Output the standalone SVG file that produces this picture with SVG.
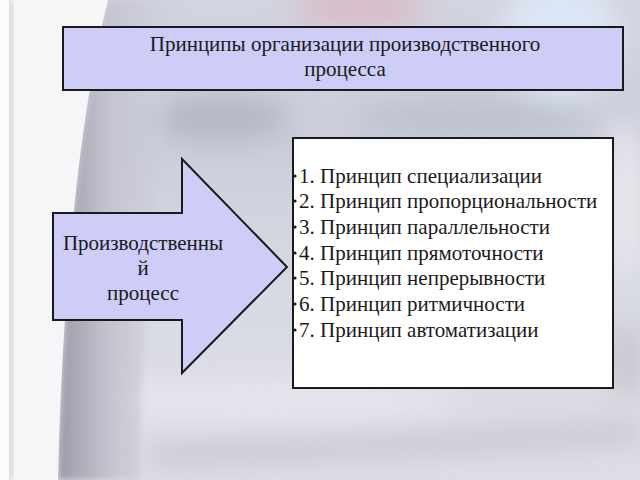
<svg xmlns="http://www.w3.org/2000/svg" width="640" height="480" viewBox="0 0 640 480">
  <defs>
    <linearGradient id="bgBase" x1="0" y1="0" x2="0" y2="1">
      <stop offset="0" stop-color="#d2d4e0"/>
      <stop offset="0.3" stop-color="#cbcdda"/>
      <stop offset="0.6" stop-color="#d8dae3"/>
      <stop offset="1" stop-color="#dddde5"/>
    </linearGradient>
    <linearGradient id="sweep" x1="0" y1="0" x2="1" y2="0">
      <stop offset="0" stop-color="#9a9aa8"/>
      <stop offset="0.35" stop-color="#c4c4d0"/>
      <stop offset="1" stop-color="#d0d2de" stop-opacity="0"/>
    </linearGradient>
    <filter id="blur" x="-50%" y="-50%" width="200%" height="200%">
      <feGaussianBlur stdDeviation="14"/>
    </filter>
    <filter id="blurS" x="-50%" y="-50%" width="200%" height="200%">
      <feGaussianBlur stdDeviation="3"/>
    </filter>
    <style>
      .box { stroke: #1a1a1a; stroke-width: 2; }
      .lav { fill: #cdcdf8; }
      .t { font-family: "Liberation Serif", "Times New Roman", serif; font-size: 21px; fill: #1a1a1a; }
      .c { text-anchor: middle; }
    </style>
  </defs>

  <!-- background -->
  <rect x="0" y="0" width="640" height="480" fill="url(#bgBase)"/>
  <g filter="url(#blur)">
    <ellipse cx="360" cy="8" rx="70" ry="20" fill="#d8bcc8"/>
    <ellipse cx="560" cy="40" rx="60" ry="60" fill="#dde6f4"/>
    <ellipse cx="470" cy="118" rx="120" ry="18" fill="#bcc0ce"/>
    <ellipse cx="220" cy="118" rx="70" ry="22" fill="#b4b6c4"/>
    <ellipse cx="260" cy="400" rx="200" ry="20" fill="#e6e6ee"/>
    <path d="M150 455 Q 380 448 640 432" stroke="#b8b8c4" stroke-width="12" fill="none"/>
    <ellipse cx="625" cy="200" rx="20" ry="80" fill="#e8e8ee"/>
    <ellipse cx="625" cy="360" rx="20" ry="40" fill="#c8c8d0"/>
  </g>
  <!-- sweep edge shading -->
  <path d="M108 0 L200 0 C 160 120 140 300 140 480 L 58 480 C 62 300 78 120 108 0 Z" fill="url(#sweep)" filter="url(#blurS)"/>
  <!-- left white area -->
  <path d="M0 0 L108 0 C 78 120 62 300 58 480 L0 480 Z" fill="#f6f6f8"/>
  <rect x="8" y="0" width="4" height="480" fill="#c4c4c8" filter="url(#blurS)"/>
  <rect x="0" y="0" width="9" height="480" fill="#fbfbfb"/>

  <!-- title node -->
  <g id="title">
    <rect class="box lav" x="63" y="27" width="560" height="63"/>
    <text class="t c" x="345" y="51">Принципы организации производственного</text>
    <text class="t c" x="345" y="76">процесса</text>
  </g>

  <!-- arrow node -->
  <g id="process">
    <polygon class="box lav" points="53,213 182,213 182,159 287,267 182,373 182,320 53,320"/>
    <text class="t c" x="143" y="250">Производственны</text>
    <text class="t c" x="143" y="275">й</text>
    <text class="t c" x="143" y="300">процесс</text>
  </g>

  <!-- list node -->
  <g id="principles">
    <rect class="box" x="293" y="138" width="320" height="250" fill="#ffffff"/>
    <g fill="#1a1a1a">
      <circle cx="295" cy="176" r="1.6"/>
      <circle cx="295" cy="201" r="1.6"/>
      <circle cx="295" cy="227" r="1.6"/>
      <circle cx="295" cy="253" r="1.6"/>
      <circle cx="295" cy="278" r="1.6"/>
      <circle cx="295" cy="304" r="1.6"/>
      <circle cx="295" cy="330" r="1.6"/>
    </g>
    <text class="t" x="299" y="183">1. Принцип специализации</text>
    <text class="t" x="299" y="208">2. Принцип пропорциональности</text>
    <text class="t" x="299" y="234">3. Принцип параллельности</text>
    <text class="t" x="299" y="260">4. Принцип прямоточности</text>
    <text class="t" x="299" y="285">5. Принцип непрерывности</text>
    <text class="t" x="299" y="311">6. Принцип ритмичности</text>
    <text class="t" x="299" y="337">7. Принцип автоматизации</text>
  </g>

  <g id="connectors"/>
</svg>
